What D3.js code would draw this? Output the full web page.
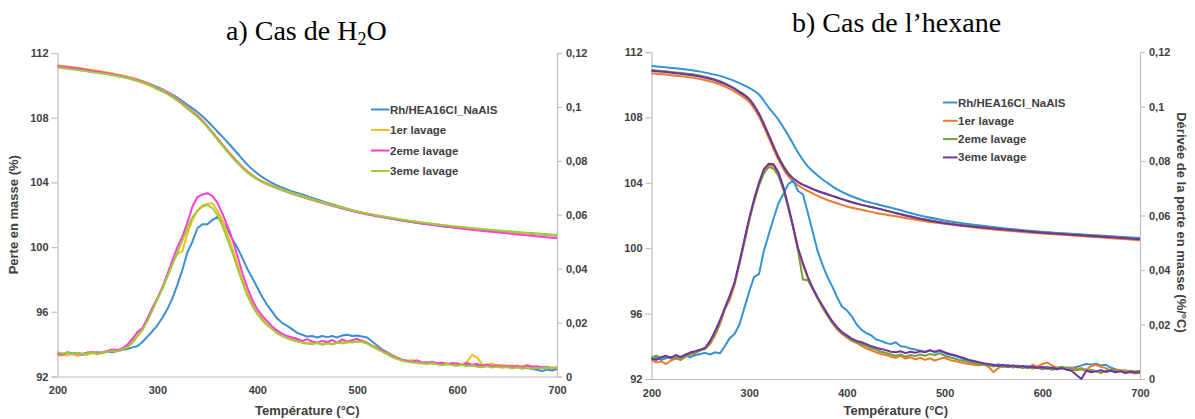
<!DOCTYPE html>
<html><head><meta charset="utf-8">
<script src="https://cdn.jsdelivr.net/npm/d3@7"></script>
<style>body{margin:0;background:#fff} svg{display:block}</style>
</head><body>
<svg id="c" width="1195" height="419"></svg>
<script>
// ---------- data ----------
const seriesNames = ["Rh/HEA16Cl_NaAlS", "1er lavage", "2eme lavage", "3eme lavage"];
const xTicks = [200, 300, 400, 500, 600, 700];
const yLeftTicks = [92, 96, 100, 104, 108, 112];
const yRightTicks = [0, 0.02, 0.04, 0.06, 0.08, 0.1, 0.12];
const yRightLabels = ["0", "0,02", "0,04", "0,06", "0,08", "0,1", "0,12"];

const tgaTemps = [200,225,250,275,290,300,310,320,330,340,350,360,370,380,390,400,415,430,450,475,500,550,600,650,700];
const dtgTemps = [200,205,210,215,220,225,230,235,240,245,250,255,260,265,270,275,280,285,290,295,300,305,310,315,320,325,330,335,340,345,350,355,360,365,370,375,380,385,390,395,400,405,410,415,420,425,430,435,440,445,450,455,460,465,470,475,480,485,490,495,500,505,510,515,520,525,530,535,540,545,550,555,560,565,570,575,580,585,590,595,600,605,610,615,620,625,630,635,640,645,650,655,660,665,670,675,680,685,690,695,700];

// a) H2O - mass (%)
const tgaA_Rh = [111.2,111.0,110.75,110.45,110.15,109.9,109.6,109.25,108.8,108.35,107.8,107.15,106.5,105.8,105.1,104.55,103.95,103.55,103.15,102.65,102.2,101.6,101.2,100.95,100.7];
const tgaA_1 = [111.25,111.05,110.8,110.45,110.15,109.85,109.55,109.15,108.65,108.15,107.5,106.75,106.0,105.3,104.7,104.25,103.8,103.45,103.05,102.6,102.2,101.65,101.25,100.95,100.72];
const tgaA_2 = [111.2,111.0,110.75,110.4,110.1,109.8,109.5,109.1,108.6,108.1,107.45,106.7,105.95,105.25,104.65,104.2,103.75,103.4,103.0,102.55,102.15,101.6,101.18,100.85,100.55];
const tgaA_3 = [111.1,110.9,110.68,110.35,110.05,109.75,109.45,109.05,108.55,108.05,107.4,106.65,105.9,105.2,104.62,104.2,103.75,103.42,103.02,102.58,102.2,101.65,101.27,100.98,100.75];
// a) H2O - derivative (%/°C)
const dtgA_Rh = [.0088,.0083,.0090,.0085,.0088,.0084,.0089,.0086,.0090,.0087,.0092,.0090,.0095,.0098,.0102,.0108,.0112,.0128,.0148,.0168,.0190,.0218,.0250,.0290,.0340,.0395,.0460,.0500,.0550,.0565,.0565,.0580,.0592,.0575,.0550,.0510,.0478,.0440,.0400,.0365,.0330,.0295,.0265,.0240,.0215,.0198,.0188,.0175,.0162,.0155,.0148,.0150,.0145,.0150,.0146,.0150,.0145,.0152,.0155,.0150,.0152,.0148,.0145,.0130,.0115,.0100,.0090,.0080,.0070,.0062,.0058,.0055,.0052,.0050,.0052,.0048,.0050,.0046,.0048,.0045,.0047,.0043,.0045,.0040,.0043,.0038,.0041,.0036,.0039,.0035,.0036,.0033,.0035,.0030,.0032,.0028,.0025,.0020,.0026,.0022,.0028];
const dtgA_1 = [.0075,.0082,.0078,.0085,.0076,.0083,.0080,.0088,.0082,.0087,.0092,.0097,.0095,.0102,.0112,.0130,.0155,.0178,.0210,.0250,.0290,.0330,.0375,.0420,.0455,.0465,.0530,.0580,.0615,.0635,.0640,.0643,.0615,.0580,.0530,.0475,.0420,.0360,.0310,.0270,.0240,.0215,.0195,.0180,.0165,.0150,.0145,.0138,.0135,.0128,.0122,.0130,.0125,.0120,.0128,.0118,.0125,.0130,.0125,.0132,.0128,.0135,.0125,.0115,.0108,.0095,.0088,.0078,.0070,.0062,.0058,.0060,.0055,.0050,.0054,.0048,.0050,.0046,.0050,.0044,.0048,.0045,.0055,.0080,.0070,.0045,.0042,.0048,.0040,.0044,.0038,.0042,.0036,.0040,.0035,.0038,.0032,.0036,.0030,.0034,.0032];
const dtgA_2 = [.0085,.0080,.0088,.0082,.0086,.0080,.0088,.0092,.0085,.0090,.0095,.0100,.0098,.0105,.0118,.0140,.0165,.0180,.0215,.0255,.0290,.0330,.0380,.0430,.0480,.0520,.0570,.0630,.0665,.0675,.0680,.0670,.0645,.0605,.0560,.0510,.0450,.0385,.0330,.0285,.0250,.0225,.0205,.0185,.0170,.0158,.0150,.0145,.0140,.0132,.0138,.0130,.0125,.0132,.0128,.0135,.0125,.0138,.0130,.0135,.0140,.0130,.0125,.0112,.0105,.0098,.0085,.0075,.0068,.0060,.0058,.0055,.0060,.0052,.0050,.0055,.0048,.0052,.0045,.0050,.0048,.0042,.0050,.0044,.0047,.0040,.0045,.0038,.0042,.0036,.0040,.0035,.0040,.0033,.0042,.0036,.0038,.0034,.0036,.0030,.0034];
const dtgA_3 = [.0090,.0085,.0088,.0083,.0087,.0082,.0086,.0090,.0084,.0088,.0092,.0095,.0093,.0100,.0108,.0125,.0150,.0172,.0205,.0245,.0285,.0325,.0370,.0415,.0460,.0505,.0550,.0590,.0615,.0630,.0636,.0625,.0600,.0560,.0510,.0460,.0405,.0350,.0300,.0262,.0232,.0208,.0190,.0175,.0160,.0150,.0142,.0135,.0130,.0125,.0122,.0120,.0124,.0118,.0122,.0120,.0125,.0122,.0128,.0126,.0130,.0128,.0122,.0112,.0102,.0092,.0082,.0072,.0065,.0058,.0055,.0052,.0050,.0048,.0046,.0050,.0045,.0042,.0046,.0042,.0040,.0043,.0038,.0041,.0036,.0034,.0038,.0033,.0036,.0032,.0035,.0030,.0034,.0030,.0033,.0029,.0032,.0030,.0034,.0031,.0033];

// b) hexane - mass (%)
const tgaB_Rh = [111.15,111.0,110.8,110.45,110.1,109.8,109.4,108.6,107.85,106.9,105.85,105.0,104.45,104.0,103.6,103.3,102.95,102.7,102.4,102.0,101.7,101.3,101.0,100.8,100.62];
const tgaB_1 = [110.7,110.55,110.35,109.9,109.4,108.95,108.05,106.75,105.4,104.4,103.85,103.5,103.2,102.95,102.75,102.55,102.35,102.15,101.95,101.7,101.5,101.15,100.9,100.7,100.48];
const tgaB_2 = [110.9,110.75,110.55,110.1,109.6,109.15,108.25,106.95,105.6,104.6,104.05,103.75,103.5,103.3,103.1,102.9,102.65,102.45,102.15,101.82,101.56,101.22,100.97,100.78,100.58];
const tgaB_3 = [110.85,110.7,110.5,110.05,109.55,109.1,108.2,106.9,105.55,104.55,104.05,103.75,103.5,103.3,103.1,102.9,102.65,102.45,102.15,101.8,101.52,101.2,100.95,100.75,100.55];
// b) hexane - derivative (%/°C)
const dtgB_Rh = [.0072,.0078,.0070,.0076,.0080,.0074,.0082,.0086,.0080,.0088,.0092,.0096,.0090,.0098,.0094,.0120,.0150,.0165,.0200,.0260,.0320,.0375,.0385,.0470,.0530,.0590,.0645,.0680,.0715,.0728,.0690,.0678,.0610,.0540,.0470,.0420,.0375,.0340,.0300,.0265,.0252,.0230,.0200,.0180,.0168,.0160,.0145,.0140,.0132,.0128,.0135,.0120,.0118,.0112,.0108,.0104,.0100,.0106,.0098,.0102,.0095,.0090,.0085,.0080,.0072,.0068,.0064,.0060,.0056,.0053,.0050,.0054,.0048,.0052,.0046,.0050,.0045,.0048,.0043,.0046,.0042,.0045,.0040,.0043,.0038,.0042,.0040,.0044,.0050,.0055,.0053,.0056,.0050,.0052,.0042,.0036,.0030,.0025,.0030,.0026,.0022];
const dtgB_1 = [.0070,.0060,.0065,.0055,.0068,.0075,.0070,.0082,.0090,.0095,.0105,.0112,.0128,.0160,.0200,.0255,.0290,.0345,.0420,.0500,.0580,.0655,.0715,.0765,.0785,.0782,.0752,.0700,.0630,.0555,.0478,.0420,.0370,.0330,.0295,.0262,.0232,.0205,.0182,.0165,.0152,.0140,.0132,.0122,.0112,.0105,.0098,.0092,.0088,.0082,.0078,.0085,.0075,.0080,.0072,.0078,.0070,.0076,.0068,.0074,.0078,.0070,.0066,.0062,.0058,.0055,.0052,.0050,.0054,.0045,.0025,.0040,.0048,.0044,.0050,.0042,.0046,.0040,.0052,.0045,.0055,.0060,.0050,.0040,.0044,.0038,.0042,.0036,.0040,.0034,.0048,.0052,.0045,.0040,.0030,.0034,.0030,.0032,.0026,.0020,.0022];
const dtgB_2 = [.0080,.0085,.0078,.0082,.0075,.0080,.0072,.0085,.0092,.0098,.0105,.0110,.0132,.0168,.0208,.0258,.0300,.0350,.0425,.0505,.0585,.0650,.0710,.0755,.0778,.0772,.0745,.0695,.0628,.0555,.0470,.0365,.0362,.0330,.0296,.0265,.0236,.0208,.0186,.0168,.0155,.0142,.0135,.0128,.0122,.0112,.0108,.0100,.0096,.0090,.0085,.0090,.0082,.0088,.0084,.0090,.0085,.0092,.0088,.0094,.0086,.0080,.0075,.0070,.0066,.0062,.0058,.0055,.0052,.0050,.0046,.0050,.0044,.0048,.0042,.0046,.0040,.0044,.0038,.0042,.0036,.0040,.0034,.0038,.0045,.0040,.0035,.0032,.0036,.0030,.0034,.0028,.0022,.0030,.0034,.0028,.0032,.0026,.0030,.0028,.0030];
const dtgB_3 = [.0075,.0070,.0080,.0085,.0078,.0088,.0080,.0090,.0098,.0102,.0108,.0115,.0140,.0175,.0215,.0260,.0305,.0355,.0430,.0510,.0590,.0660,.0720,.0770,.0790,.0788,.0758,.0705,.0635,.0560,.0480,.0425,.0375,.0335,.0300,.0270,.0240,.0212,.0190,.0172,.0160,.0148,.0140,.0135,.0128,.0120,.0115,.0110,.0106,.0100,.0098,.0102,.0095,.0100,.0096,.0102,.0098,.0105,.0100,.0106,.0098,.0092,.0088,.0082,.0076,.0070,.0066,.0062,.0058,.0055,.0052,.0048,.0052,.0046,.0050,.0044,.0048,.0042,.0046,.0040,.0044,.0038,.0042,.0036,.0040,.0034,.0030,.0015,.0000,.0030,.0025,.0028,.0032,.0026,.0030,.0025,.0028,.0022,.0026,.0024,.0026];

// ---------- drawing ----------
const svg = d3.select("#c");
const txtCol = "#404040", axCol = "#bfbfbf";

const panels = [
  { x0: 57.5, x1: 557, yT: 53, yB: 376.5,
    colors: ["#3a8fd2", "#f5bc1c", "#ff3fd2", "#9ccb3b"],
    tga: [tgaA_Rh, tgaA_1, tgaA_2, tgaA_3], dtg: [dtgA_Rh, dtgA_1, dtgA_2, dtgA_3],
    leg: { x: 371, len: 18.5, y: 109.5, dy: 20.5 }, leftTitle: true, rightTitle: false },
  { x0: 651.5, x1: 1140, yT: 52, yB: 379,
    colors: ["#3592d3", "#ec7a2c", "#72a03c", "#7232a2"],
    tga: [tgaB_Rh, tgaB_1, tgaB_2, tgaB_3], dtg: [dtgB_Rh, dtgB_1, dtgB_2, dtgB_3],
    leg: { x: 943, len: 14.5, y: 102.5, dy: 18.3 }, leftTitle: false, rightTitle: true }
];

panels.forEach(p => {
  const x = d3.scaleLinear().domain([200, 700]).range([p.x0, p.x1]);
  const y = d3.scaleLinear().domain([92, 112]).range([p.yB, p.yT]);
  const y2 = d3.scaleLinear().domain([0, 0.12]).range([p.yB, p.yT]);
  const g = svg.append("g");

  const ay = g.append("g").attr("transform", `translate(${p.x0},0)`)
    .call(d3.axisLeft(y).tickValues(yLeftTicks).tickSize(6).tickPadding(3).tickFormat(d3.format("d")));
  const ay2 = g.append("g").attr("transform", `translate(${p.x1},0)`)
    .call(d3.axisRight(y2).tickValues(yRightTicks).tickSize(5).tickPadding(4)
      .tickFormat((d, i) => yRightLabels[i]));
  const ax = g.append("g").attr("transform", `translate(0,${p.yB})`)
    .call(d3.axisBottom(x).tickValues(xTicks).tickSize(0).tickPadding(10).tickFormat(d3.format("d")));
  [ay, ay2, ax].forEach(a => {
    a.select(".domain").attr("stroke", axCol).attr("stroke-width", 1.2);
    a.selectAll(".tick line").attr("stroke", axCol).attr("stroke-width", 1.2);
    a.selectAll(".tick text").attr("fill", txtCol).style("font-family", "Liberation Sans, Arial, sans-serif")
      .style("font-size", "11px").style("font-weight", "bold");
  });

  const lineT = d3.line().x((d, i) => x(tgaTemps[i])).y(d => y(d)).curve(d3.curveMonotoneX);
  const lineD = d3.line().x((d, i) => x(dtgTemps[i])).y(d => y2(d));
  p.tga.forEach((s, k) => g.append("path").attr("d", lineT(s)).attr("fill", "none")
    .attr("stroke", p.colors[k]).attr("stroke-width", 2));
  p.dtg.forEach((s, k) => g.append("path").attr("d", lineD(s)).attr("fill", "none")
    .attr("stroke", p.colors[k]).attr("stroke-width", 2).attr("stroke-linejoin", "round"));

  seriesNames.forEach((n, k) => {
    const yy = p.leg.y + k * p.leg.dy;
    g.append("line").attr("x1", p.leg.x).attr("x2", p.leg.x + p.leg.len).attr("y1", yy).attr("y2", yy)
      .attr("stroke", p.colors[k]).attr("stroke-width", 2);
    g.append("text").attr("x", p.leg.x + p.leg.len + 0.5).attr("y", yy).attr("dy", "0.35em")
      .attr("fill", txtCol).style("font-family", "Liberation Sans, Arial, sans-serif")
      .style("font-size", "11.5px").style("font-weight", "bold").text(n);
  });

  const tStyle = s => s.attr("fill", txtCol).style("font-family", "Liberation Sans, Arial, sans-serif")
    .style("font-size", "13px").style("font-weight", "bold").attr("text-anchor", "middle");
  g.append("text").attr("x", (p.x0 + p.x1) / 2).attr("y", 415).call(tStyle).text("Température (°C)");
  if (p.leftTitle)
    g.append("text").attr("transform", `translate(18,${(p.yT + p.yB) / 2}) rotate(-90)`).call(tStyle)
      .text("Perte en masse (%)");
  if (p.rightTitle)
    g.append("text").attr("transform", `translate(1177,${(p.yT + p.yB) / 2 + 7}) rotate(90)`).call(tStyle)
      .text("Dérivée de la perte en masse (%/°C)");
});

const serif = "Liberation Serif, Times New Roman, serif";
const tA = svg.append("text").attr("x", 226).attr("y", 40).style("font-family", serif).style("font-size", "28px").attr("fill", "#000");
tA.append("tspan").text("a) Cas de H");
tA.append("tspan").attr("dy", 5).style("font-size", "18px").text("2");
tA.append("tspan").attr("dy", -5).text("O");
svg.append("text").attr("x", 792).attr("y", 32).style("font-family", serif).style("font-size", "28px")
  .attr("fill", "#000").text("b) Cas de l’hexane");
</script>
</body></html>
